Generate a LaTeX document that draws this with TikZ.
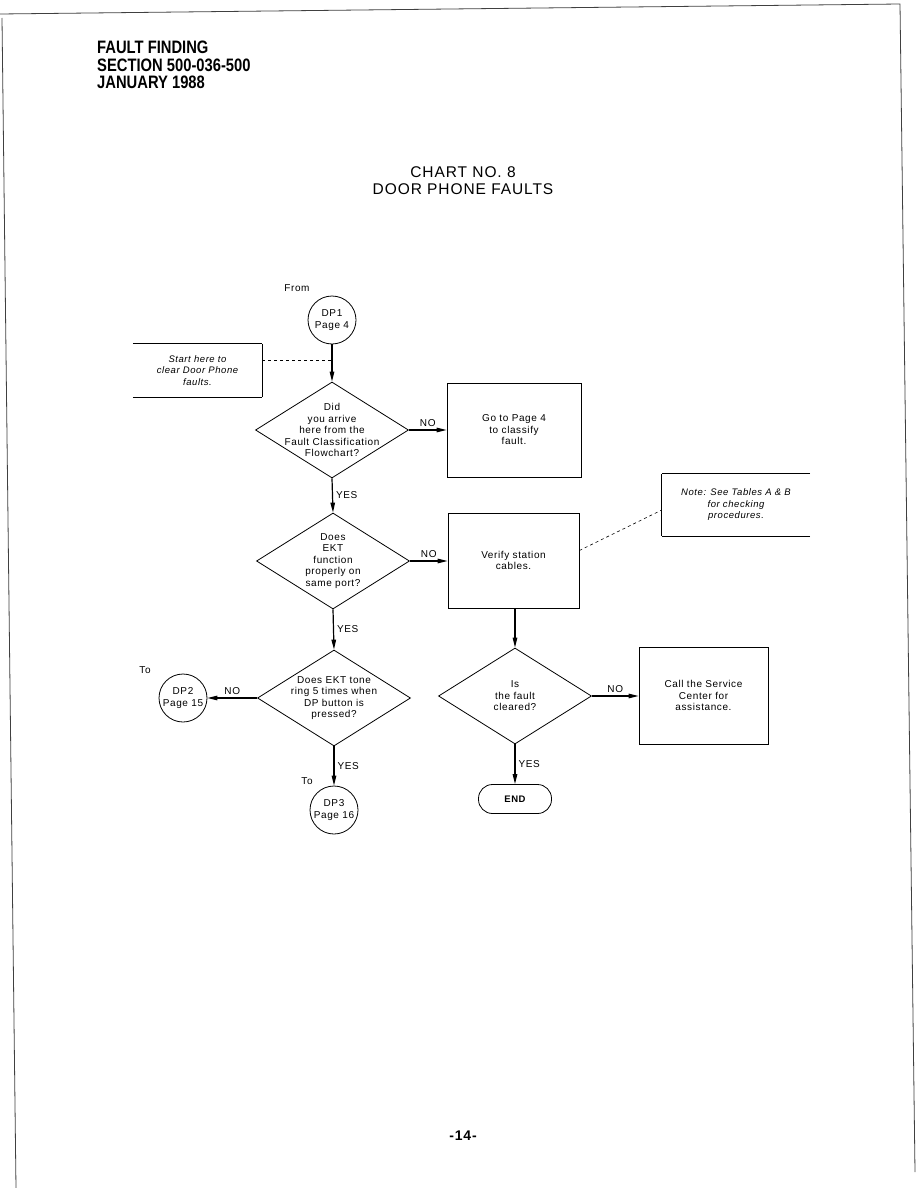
\documentclass[tikz,border=0pt]{standalone}
\usepackage{fontspec}
\setmainfont{Liberation Sans}[LetterSpace=6]
\newfontfamily\headfont{Liberation Sans}[FakeStretch=0.82]
\usetikzlibrary{arrows.meta,shapes.geometric}

\begin{document}
\begin{tikzpicture}[x=1pt,y=-1pt,
  every node/.style={font=\fontsize{10}{11.5}\selectfont},
  decision/.style={diamond, draw, line width=0.8pt, minimum width=153pt, minimum height=96pt, inner sep=0pt},
  qtext/.style={align=center, inner sep=0pt, font=\fontsize{10}{11.5}\selectfont},
  action/.style={draw, line width=0.8pt, align=center, inner sep=0pt},
  connector/.style={circle, draw, line width=0.8pt, minimum size=48pt, inner sep=0pt, align=center, font=\fontsize{10}{12}\selectfont},
  terminal/.style={draw, line width=0.8pt, rounded corners=14pt, minimum width=73pt, minimum height=29pt, font=\fontsize{9.5}{11}\selectfont\bfseries},
  flow/.style={-{Triangle[length=10pt,width=4.5pt]}, line width=1.2pt},
  ans/.style={font=\fontsize{10}{11}\selectfont, inner sep=3pt},
  comment/.style={align=center, inner sep=0pt, font=\fontsize{9.5}{11.5}\selectfont\itshape}]
\useasboundingbox (0,0) rectangle (918,1188);
% page frame of the scan
\draw[line width=0.8pt, black!75] (0,14) -- (900,4) -- (915,1172);
\draw[line width=0.8pt, black!75] (2,18) -- (16,1188);
% heading
\node[anchor=north west, align=left, inner sep=0pt, font=\headfont\bfseries\fontsize{18}{17.5}\selectfont] (head) at (97,41) {FAULT FINDING\\SECTION 500-036-500\\JANUARY 1988};
\node[align=center, inner sep=0pt, font=\fontsize{15.5}{17}\selectfont] (title) at (463,181) {CHART NO. 8\\DOOR PHONE FAULTS};
\node[font=\fontsize{14}{16}\selectfont\bfseries] (pageno) at (463,1136) {-14-};

% start
\node (from) at (297,288) {From};
\node[connector] (dp1) at (332,320) {DP1\\Page 4};
\node[comment, minimum width=129pt, minimum height=53pt] (startbox) at (197.5,370.5) {Start here to\\clear Door Phone\\faults.};
\draw[line width=1.2pt] (startbox.north west) -- (startbox.north east);
\draw[line width=1.2pt] (startbox.south west) -- (startbox.south east);
\draw[line width=0.8pt] (startbox.north east) -- (startbox.south east);
\coordinate (m1) at (332,360);
\draw[dashed, line width=0.6pt] (startbox.east |- m1) -- (m1);

% questions
\node[decision, label={[qtext]center:{Did\\you arrive\\here from the\\Fault Classification\\Flowchart?}}] (q1) at (332,430) {};
\node[action, minimum width=134pt, minimum height=94pt] (gopage) at (514,430) {Go to Page 4\\to classify\\fault.};
\node[decision, label={[qtext]center:{Does\\EKT\\function\\properly on\\same port?}}] (q2) at (333,561) {};
\node[action, minimum width=131pt, minimum height=95pt] (verify) at (513.5,560.5) {Verify station\\cables.};
\node[comment, minimum width=148pt, minimum height=62pt] (note) at (736,505) {Note: See Tables A \& B\\for checking\\procedures.};
\draw[line width=1.2pt] (note.north east) -- (note.north west);
\draw[line width=1.2pt] (note.south east) -- (note.south west);
\draw[line width=0.8pt] (note.north west) -- (note.south west);
\draw[dashed, line width=0.6pt] ([yshift=10pt]verify.east) -- ([yshift=-5pt]note.west);

\node[decision, label={[qtext]center:{Does EKT tone\\ring 5 times when\\DP button is\\pressed?}}] (q3) at (334,698) {};
\node (to2) at (145,670) {To};
\node[connector] (dp2) at (183,698) {DP2\\Page 15};
\node (to3) at (307,781) {To};
\node[connector] (dp3) at (334,810) {DP3\\Page 16};

\node[decision, label={[qtext]center:{Is\\the fault\\cleared?}}] (q4) at (515,696) {};
\node[action, minimum width=129pt, minimum height=97pt] (service) at (703.5,695.5) {Call the Service\\Center for\\assistance.};
\node[terminal] (end) at (515,799) {END};

% flow lines
\draw[flow] (dp1) -- (q1);
\draw[flow] (q1.east) -- (gopage.west) node[midway, above, ans] {NO};
\draw[flow] (q1.south) -- (q2.north) node[midway, right, ans] {YES};
\draw[flow] (q2.east) -- (verify.west |- q2.east) node[midway, above, ans] {NO};
\draw[flow] (q2.south) -- (q3.north) node[midway, right, ans] {YES};
\draw[flow] (q3.west) -- (dp2.east) node[midway, above, ans] {NO};
\draw[flow] (q3.south) -- (dp3.north) node[midway, right, ans] {YES};
\draw[flow] (verify.south -| q4.north) -- (q4.north);
\draw[flow] (q4.east) -- (service.west |- q4.east) node[midway, above, ans] {NO};
\draw[flow] (q4.south) -- (end.north) node[midway, right, ans] {YES};
\end{tikzpicture}
\end{document}
